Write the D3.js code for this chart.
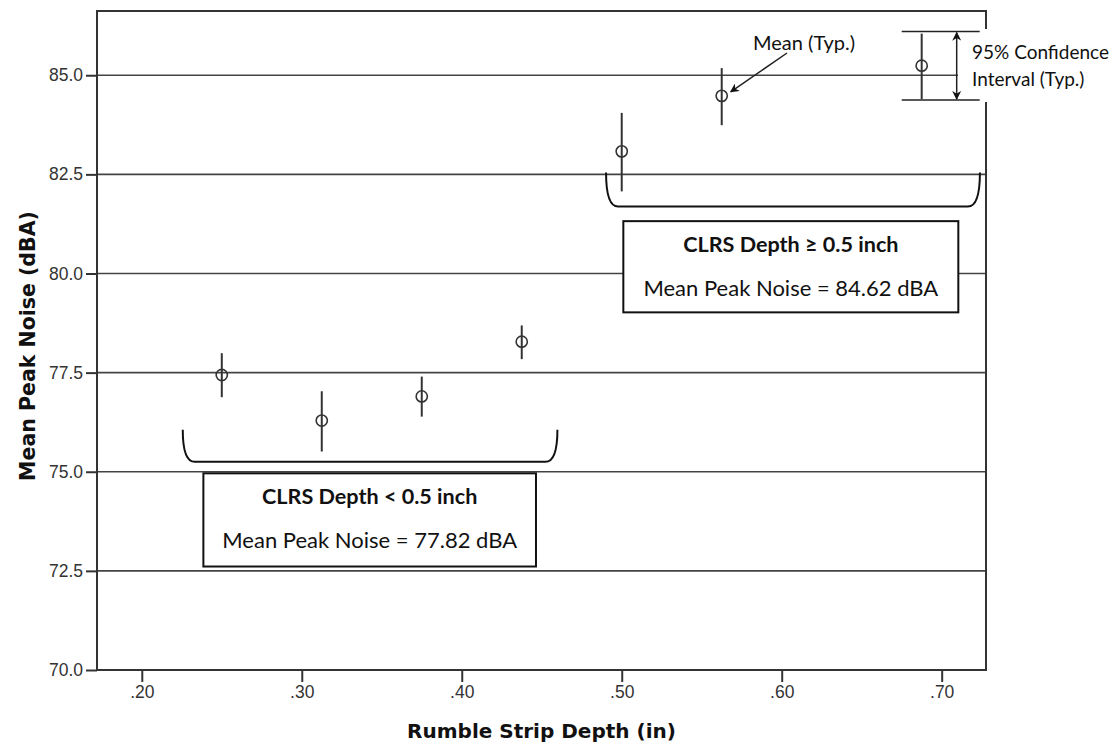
<!DOCTYPE html>
<html>
<head>
<meta charset="utf-8">
<script src="https://cdn.jsdelivr.net/npm/d3@7"></script>
<style>
  body { margin: 0; background: #fff; }
  .tick text { font-family: "Liberation Sans", Arial, sans-serif; font-size: 17.5px; fill: #333; }
  .note { font-family: Lato, "Open Sans", sans-serif; fill: #111; }
</style>
</head>
<body>
<svg id="chart" width="1118" height="746"></svg>
<script>
// depth of each strip (in) and the noise stats
var depths = [0.25, 0.3125, 0.375, 0.4375, 0.5, 0.5625, 0.6875];
var means  = [77.44, 76.29, 76.90, 78.28, 83.08, 84.48, 85.24];
var ciLow  = [76.88, 75.51, 76.39, 77.84, 82.07, 83.74, 84.40];
var ciHigh = [77.99, 77.03, 77.40, 78.69, 84.05, 85.18, 86.05];

var xTicks = [0.20, 0.30, 0.40, 0.50, 0.60, 0.70];
var yTicks = [70, 72.5, 75, 77.5, 80, 82.5, 85];

// the two depth groups: bracket span, box span (data units) and texts
var groupNames = ["CLRS Depth < 0.5 inch", "CLRS Depth \u2265 0.5 inch"];
var groupMeans = ["Mean Peak Noise = 77.82 dBA", "Mean Peak Noise = 84.62 dBA"];
var bracketX = [[0.2256, 0.4598], [0.4902, 0.7239]];
var bracketY = [[76.06, 75.25], [82.55, 81.69]];
var boxX = [[0.2385, 0.4464], [0.5010, 0.7104]];
var boxY = [[74.96, 72.61], [81.32, 79.02]];

var svg = d3.select("#chart");
var plotL = 97, plotR = 986, plotT = 11, plotB = 670;

var x = d3.scaleLinear().domain([0.172, 0.7277]).range([plotL, plotR]);
var y = d3.scaleLinear().domain([70, 86.62]).range([plotB, plotT]);

var ink = "#333";

// gridlines
svg.append("g")
  .selectAll("line")
  .data(yTicks)
  .enter()
  .append("line")
    .attr("x1", plotL).attr("x2", plotR)
    .attr("y1", y).attr("y2", y)
    .attr("stroke", "#444")
    .attr("stroke-width", 1.6);

// axes
var yAxis = svg.append("g")
  .attr("transform", "translate(" + plotL + ",0)")
  .call(d3.axisLeft(y).tickValues(yTicks).tickFormat(d3.format(".1f")).tickSize(11).tickPadding(3));
var xAxis = svg.append("g")
  .attr("transform", "translate(0," + plotB + ")")
  .call(d3.axisBottom(x).tickValues(xTicks)
    .tickFormat(function(d) { return d3.format(".2f")(d).replace(/^0/, ""); })
    .tickSize(12).tickPadding(4));
[yAxis, xAxis].forEach(function(a) {
  a.select(".domain").remove();
  a.selectAll(".tick line").attr("stroke", ink).attr("stroke-width", 2);
});

// frame
svg.append("rect")
  .attr("x", plotL).attr("y", plotT)
  .attr("width", plotR - plotL).attr("height", plotB - plotT)
  .attr("fill", "none")
  .attr("stroke", ink)
  .attr("stroke-width", 2);

// axis titles
svg.append("text")
  .attr("x", (plotL + plotR) / 2).attr("y", 738)
  .attr("text-anchor", "middle")
  .style("font-family", "DejaVu Sans, sans-serif")
  .style("font-weight", "bold")
  .style("font-size", "20px")
  .attr("fill", "#111")
  .text("Rumble Strip Depth (in)");

svg.append("text")
  .attr("transform", "translate(35,346) rotate(-90)")
  .attr("text-anchor", "middle")
  .style("font-family", "DejaVu Sans, sans-serif")
  .style("font-weight", "bold")
  .style("font-size", "20.5px")
  .attr("fill", "#111")
  .text("Mean Peak Noise (dBA)");

// arrow heads
var defs = svg.append("defs");
["end", "start"].forEach(function(k) {
  defs.append("marker")
    .attr("id", "arrow-" + k)
    .attr("viewBox", "0 0 10 10")
    .attr("refX", 9).attr("refY", 5)
    .attr("markerWidth", 9).attr("markerHeight", 9)
    .attr("markerUnits", "userSpaceOnUse")
    .attr("orient", "auto-start-reverse")
    .append("path")
      .attr("d", "M0,0 L10,5 L0,10 L3,5 Z")
      .attr("fill", "#111");
});

// confidence interval note (white patch covers the frame like in the source)
var last = depths.length - 1;
svg.append("rect")
  .attr("x", 958).attr("y", 29)
  .attr("width", 160).attr("height", 73)
  .attr("fill", "#fff");

var ciTop = y(ciHigh[last]) - 2, ciBot = y(ciLow[last]) + 1;
[ciTop, ciBot].forEach(function(v) {
  svg.append("line")
    .attr("x1", x(depths[last]) - 20).attr("x2", x(depths[last]) + 58)
    .attr("y1", v).attr("y2", v)
    .attr("stroke", "#222").attr("stroke-width", 1.5);
});
svg.append("line")
  .attr("x1", x(depths[last]) + 35).attr("x2", x(depths[last]) + 35)
  .attr("y1", ciTop + 1).attr("y2", ciBot - 1)
  .attr("stroke", "#222").attr("stroke-width", 1.5)
  .attr("marker-start", "url(#arrow-start)")
  .attr("marker-end", "url(#arrow-end)");

svg.append("text").attr("class", "note")
  .attr("x", 972).attr("y", 59)
  .style("font-size", "19px")
  .text("95% Confidence");
svg.append("text").attr("class", "note")
  .attr("x", 972).attr("y", 86)
  .style("font-size", "19px")
  .text("Interval (Typ.)");

// error bars and means
var pts = svg.append("g");
pts.selectAll("line")
  .data(depths)
  .enter()
  .append("line")
    .attr("x1", function(d) { return x(d); })
    .attr("x2", function(d) { return x(d); })
    .attr("y1", function(d, i) { return y(ciLow[i]); })
    .attr("y2", function(d, i) { return y(ciHigh[i]); })
    .attr("stroke", ink)
    .attr("stroke-width", 2);
pts.selectAll("circle")
  .data(depths)
  .enter()
  .append("circle")
    .attr("cx", function(d) { return x(d); })
    .attr("cy", function(d, i) { return y(means[i]); })
    .attr("r", 5.6)
    .attr("fill", "none")
    .attr("stroke", ink)
    .attr("stroke-width", 1.6);

// mean note with arrow to the sixth point
svg.append("text").attr("class", "note")
  .attr("x", 753).attr("y", 50)
  .style("font-size", "20px")
  .text("Mean (Typ.)");
svg.append("line")
  .attr("x1", 787).attr("y1", 53)
  .attr("x2", x(depths[5]) + 9).attr("y2", y(means[5]) - 4)
  .attr("stroke", "#222").attr("stroke-width", 1.5)
  .attr("marker-end", "url(#arrow-end)");

// group brackets and boxes
groupNames.forEach(function(name, i) {
  var x0 = x(bracketX[i][0]), x1 = x(bracketX[i][1]);
  var yt = y(bracketY[i][0]), yb = y(bracketY[i][1]), r = 12;
  var p = d3.path();
  p.moveTo(x0, yt);
  p.quadraticCurveTo(x0, yb, x0 + r, yb);
  p.lineTo(x1 - r, yb);
  p.quadraticCurveTo(x1, yb, x1, yt);
  svg.append("path")
    .attr("d", p.toString())
    .attr("fill", "none")
    .attr("stroke", "#111")
    .attr("stroke-width", 2);

  var bx0 = x(boxX[i][0]), bx1 = x(boxX[i][1]);
  var by0 = y(boxY[i][0]), by1 = y(boxY[i][1]);
  svg.append("rect")
    .attr("x", bx0).attr("y", by0)
    .attr("width", bx1 - bx0).attr("height", by1 - by0)
    .attr("fill", "#fff")
    .attr("stroke", "#111")
    .attr("stroke-width", 2);
  var cx = (bx0 + bx1) / 2;
  svg.append("text").attr("class", "note")
    .attr("x", cx).attr("y", by0 + 31)
    .attr("text-anchor", "middle")
    .style("font-size", "21.6px")
    .style("font-weight", "bold")
    .text(name);
  svg.append("text").attr("class", "note")
    .attr("x", cx).attr("y", by0 + 75)
    .attr("text-anchor", "middle")
    .style("font-size", "22px")
    .text(groupMeans[i]);
});
</script>
</body>
</html>
